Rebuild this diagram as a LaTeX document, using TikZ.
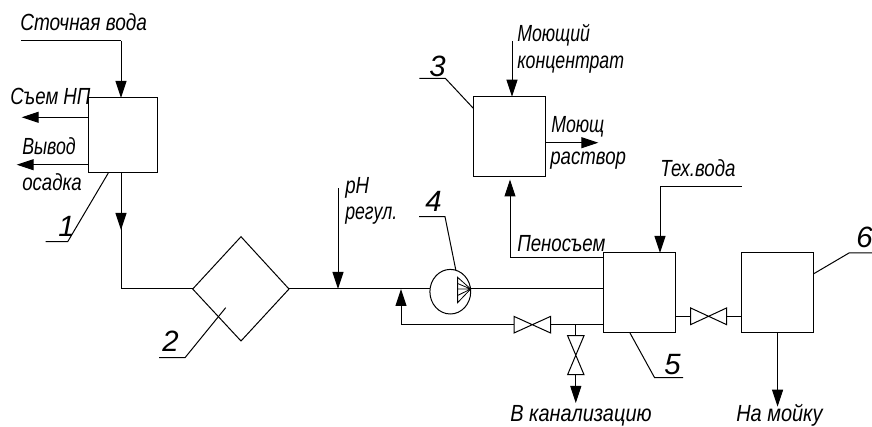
\documentclass[tikz,border=0pt]{standalone}
\usepackage{graphicx}
\usepackage{fontspec}
\setmainfont{Liberation Sans}
\newfontfamily\lab[FakeStretch=0.8]{Liberation Sans Italic}
\newfontfamily\dig{Liberation Sans Italic}
\usetikzlibrary{arrows.meta}
\newcommand{\wx}[2]{\scalebox{#1}[1]{#2}}
\tikzset{
  line/.style={draw=black,line width=0.75pt},
  flow/.style={line,-{Triangle[length=12.75pt,width=8.25pt]}},
  unit/.style={line,fill=white},
  lbl/.style={inner sep=0pt,font=\lab\fontsize{17.5}{17.5}\selectfont,anchor=base west},
  num/.style={inner sep=0pt,font=\dig\fontsize{22}{22}\selectfont,anchor=base west}
}
\begin{document}
\begin{tikzpicture}[x=0.75pt,y=-0.75pt]
\useasboundingbox (0,0) rectangle (872,427);
% units
\coordinate (b1nw) at (88,98); \coordinate (b1se) at (157,173);
\draw[unit] (b1nw) rectangle (b1se);
\coordinate (b3nw) at (473.7,96.7); \coordinate (b3se) at (545.7,177);
\draw[unit] (b3nw) rectangle (b3se);
\coordinate (b5nw) at (603.5,253); \coordinate (b5se) at (675.4,333);
\draw[unit] (b5nw) rectangle (b5se);
\coordinate (b6nw) at (741.8,253); \coordinate (b6se) at (813.3,333);
\draw[unit] (b6nw) rectangle (b6se);
\draw[line] (192.7,289) -- (241,236.7) -- (289,289) -- (241,341) -- cycle;
% flows
\draw[line] (21,41) -- (121,41);
\draw[flow] (121,41) -- (121,98);
\draw[flow] (88,117.3) -- (21.7,117.3);
\draw[flow] (88,164.7) -- (16.7,164.7);
\draw[flow] (121,173) -- (121,230);
\draw[line] (121,225) -- (121,289) -- (192.7,289);
\draw[line] (289,289) -- (430,289);
\draw[flow] (338,188.3) -- (338,289);
\draw[line] (470.7,289) -- (603.5,289);
\draw[line] (603.5,324.7) -- (550.6,324.7);
\draw[flow] (514,324.7) -- (401,324.7) -- (401,289);
\draw[line] (575.8,324.7) -- (575.8,335.7);
\draw[flow] (575.8,374.7) -- (575.8,403);
\draw[line] (675.4,316.3) -- (690.7,316.3);
\draw[line] (726.5,316.3) -- (741.8,316.3);
\draw[flow] (777.6,333) -- (777.6,406.7);
\draw[flow] (603.5,258) -- (510,258) -- (510,179.5);
\draw[flow] (512,41) -- (512,96.7);
\draw[flow] (545.7,142.7) -- (598.3,142.7);
\draw[line] (741.7,186.7) -- (660,186.7);
\draw[flow] (660,186.7) -- (660,253);
% valves
\draw[unit] (514,316.4) -- (550.6,333) -- (550.6,316.4) -- (514,333) -- cycle;
\draw[unit] (690.7,308) -- (726.5,324.6) -- (726.5,308) -- (690.7,324.6) -- cycle;
\draw[unit] (567.6,335.7) -- (584,335.7) -- (567.6,374.7) -- (584,374.7) -- cycle;
% pump
\draw[unit] (450.3,291.7) ellipse [x radius=20.4,y radius=22.3];
\draw[line,line width=0.6pt] (470.7,289) -- (457.6,277.3) -- (457.6,302.7) -- cycle;
\draw[line,line width=0.6pt] (470.7,289) -- (457.6,283.5) (470.7,289) -- (457.6,289) (470.7,289) -- (457.6,295.5);
% leaders
\draw[line] (108.3,173) -- (67.7,241.7) -- (45.7,241.7);
\draw[line] (473.7,108.7) -- (445.3,78.3) -- (419.3,78.3);
\draw[line] (419,216.7) -- (445,216.7) -- (455.8,270);
\draw[line] (630,333) -- (654.6,377.7) -- (683,377.7);
\draw[line] (813.3,274) -- (849,253) -- (872,253);
\draw[line] (225.7,307.7) -- (185,357.7) -- (159,357.7);
% labels
\node[lbl] (t1) at (20,31) {\wx{1.02}{Сточная вода}};
\node[lbl] (t2) at (10,105) {\wx{1}{Съем НП}};
\node[lbl] (t3) at (22,155) {\wx{0.95}{Вывод}};
\node[lbl] (t4) at (22,190.7) {\wx{1}{осадка}};
\node[lbl] (t5) at (517,41.7) {\wx{0.95}{Моющий}};
\node[lbl] (t6) at (517,69) {\wx{0.95}{концентрат}};
\node[lbl] (t7) at (551,133) {\wx{0.95}{Моющ}};
\node[lbl] (t8) at (550,165) {\wx{1}{раствор}};
\node[lbl] (t9) at (660,176.7) {\wx{1}{Тех.вода}};
\node[lbl] (t10) at (345,194) {\wx{1}{pH}};
\node[lbl] (t11) at (345,220) {\wx{0.95}{регул.}};
\node[lbl] (t12) at (517,251.7) {\wx{1}{Пеносъем}};
\node[lbl] (t13) at (510,421.5) {\wx{1.07}{В канализацию}};
\node[lbl] (t14) at (736,421.5) {\wx{1.07}{На мойку}};
\node[num] (n1) at (58,237) {1};
\node[num] (n2) at (162,352) {2};
\node[num] (n3) at (429,76.7) {3};
\node[num] (n4) at (425,211.7) {4};
\node[num] (n5) at (664,375) {5};
\node[num] (n6) at (856,248) {6};
\end{tikzpicture}
\end{document}
